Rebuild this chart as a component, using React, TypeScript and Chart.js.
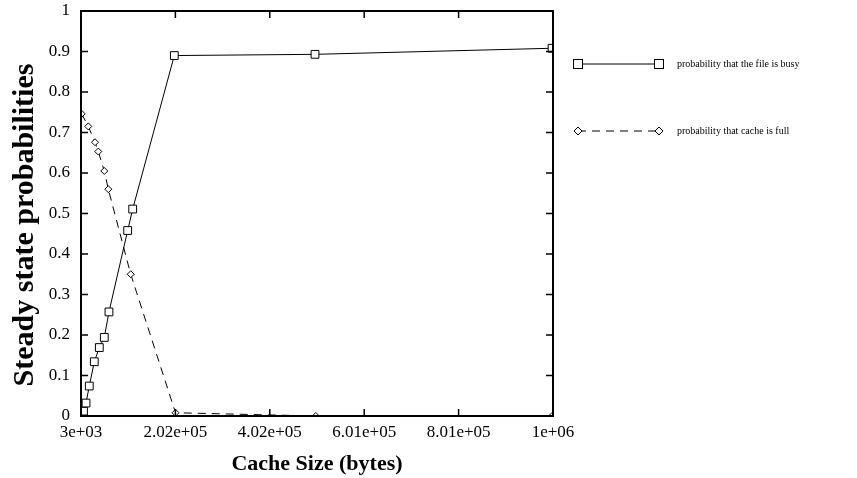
import React, { useEffect, useRef } from "react";
import { Chart, registerables } from "chart.js";

Chart.register(...registerables);

const busyX = [8300, 13600, 20500, 31100, 41700, 52200, 62100, 101600, 112200, 200100, 497300, 998000];
const busyY = [0.012, 0.032, 0.074, 0.134, 0.169, 0.194, 0.257, 0.458, 0.511, 0.89, 0.893, 0.908];
const fullX = [4500, 18400, 32600, 39500, 52200, 60700, 108000, 202600, 499000, 998000];
const fullY = [0.746, 0.715, 0.676, 0.653, 0.605, 0.56, 0.35, 0.008, 0.0, 0.0];
const xTickValues = [3000, 202400, 401800, 601200, 800600, 1000000];
const xTickLabels = ["3e+03", "2.02e+05", "4.02e+05", "6.01e+05", "8.01e+05", "1e+06"];
const yTickValues = [0, 0.1, 0.2, 0.3, 0.4, 0.5, 0.6, 0.7, 0.8, 0.9, 1];
const yTickLabels = ["0", "0.1", "0.2", "0.3", "0.4", "0.5", "0.6", "0.7", "0.8", "0.9", "1"];
const seriesNames = ["probability that the file is busy", "probability that cache is full"];
const yTitle = "Steady state probabilities";
const xTitle = "Cache Size (bytes)";

const SERIF = "'Liberation Serif', 'Times New Roman', serif";

const framePlugin = {
  id: "frameTicks",
  afterDatasetsDraw(chart: any) {
    const { ctx, chartArea: a, scales } = chart;
    ctx.save();
    ctx.strokeStyle = "#000";
    ctx.lineWidth = 2;
    ctx.strokeRect(a.left, a.top, a.right - a.left, a.bottom - a.top);
    ctx.lineWidth = 1.5;
    const tl = 7;
    for (const v of yTickValues) {
      const y = scales.y.getPixelForValue(v);
      ctx.beginPath();
      ctx.moveTo(a.left, y);
      ctx.lineTo(a.left + tl, y);
      ctx.moveTo(a.right, y);
      ctx.lineTo(a.right - tl, y);
      ctx.stroke();
    }
    for (const v of xTickValues) {
      const x = scales.x.getPixelForValue(v);
      ctx.beginPath();
      ctx.moveTo(x, a.bottom);
      ctx.lineTo(x, a.bottom - tl);
      ctx.moveTo(x, a.top);
      ctx.lineTo(x, a.top + tl);
      ctx.stroke();
    }
    // y title
    ctx.save();
    ctx.translate(33, 225);
    ctx.rotate(-Math.PI / 2);
    ctx.font = "bold 30px " + SERIF;
    ctx.fillStyle = "#000";
    ctx.textAlign = "center";
    ctx.textBaseline = "alphabetic";
    ctx.fillText(yTitle, 0, 0);
    ctx.restore();
    // legend
    const lx0 = a.right + 25;
    const lx1 = a.right + 106;
    const tx = a.right + 124;
    const rows = [64, 131];
    ctx.font = "10px " + SERIF;
    ctx.textBaseline = "middle";
    ctx.textAlign = "left";
    rows.forEach((ry, i) => {
      ctx.lineWidth = 1;
      ctx.setLineDash(i === 0 ? [] : [8, 6]);
      ctx.beginPath();
      ctx.moveTo(lx0, ry);
      ctx.lineTo(lx1, ry);
      ctx.stroke();
      ctx.setLineDash([]);
      for (const mx of [lx0, lx1]) {
        ctx.fillStyle = "#fff";
        if (i === 0) {
          ctx.fillRect(mx - 4.5, ry - 4.5, 9, 9);
          ctx.strokeRect(mx - 4.5, ry - 4.5, 9, 9);
        } else {
          ctx.beginPath();
          ctx.moveTo(mx, ry - 4);
          ctx.lineTo(mx + 4, ry);
          ctx.lineTo(mx, ry + 4);
          ctx.lineTo(mx - 4, ry);
          ctx.closePath();
          ctx.fill();
          ctx.stroke();
        }
      }
      ctx.fillStyle = "#000";
      ctx.fillText(seriesNames[i], tx, ry);
    });
    ctx.restore();
  },
};

export default function App() {
  const ref = useRef<HTMLCanvasElement>(null);
  useEffect(() => {
    document.body.style.margin = "0";
    const chart = new Chart(ref.current!, {
      type: "scatter",
      data: {
        datasets: [
          {
            label: seriesNames[0],
            data: busyX.map((x, i) => ({ x, y: busyY[i] })),
            showLine: true,
            borderColor: "#000",
            borderWidth: 1,
            pointStyle: "rect",
            pointRadius: 5.5,
            pointBackgroundColor: "#fff",
            pointBorderColor: "#000",
            pointBorderWidth: 1,
          },
          {
            label: seriesNames[1],
            data: fullX.map((x, i) => ({ x, y: fullY[i] })),
            showLine: true,
            borderColor: "#000",
            borderWidth: 1,
            borderDash: [8, 6],
            pointStyle: "rectRot",
            pointRadius: 3.5,
            pointBackgroundColor: "#fff",
            pointBorderColor: "#000",
            pointBorderWidth: 1,
          },
        ],
      },
      options: {
        animation: false,
        responsive: false,
        devicePixelRatio: 1,
        layout: { padding: { top: 11, right: 304, left: 0, bottom: 0 } },
        plugins: { legend: { display: false }, tooltip: { enabled: false } },
        scales: {
          x: {
            type: "linear",
            min: 3000,
            max: 1000000,
            afterBuildTicks: (s: any) => {
              s.ticks = xTickValues.map((v) => ({ value: v }));
            },
            afterFit: (s: any) => {
              s.height = 62;
              s.paddingLeft = 0;
              s.paddingRight = 0;
            },
            grid: { display: false, drawTicks: false },
            border: { display: false },
            ticks: {
              color: "#000",
              font: { family: SERIF, size: 17 },
              padding: 6,
              maxRotation: 0,
              autoSkip: false,
              callback: (v: any) => {
                const i = xTickValues.indexOf(Number(v));
                return i >= 0 ? xTickLabels[i] : "";
              },
            },
            title: {
              display: true,
              text: xTitle,
              color: "#000",
              font: { family: SERIF, size: 22, weight: "bold" },
              padding: { top: 0, bottom: 0 },
            },
          },
          y: {
            min: 0,
            max: 1,
            afterBuildTicks: (s: any) => {
              s.ticks = yTickValues.map((v) => ({ value: v }));
            },
            afterFit: (s: any) => {
              s.width = 81;
              s.paddingTop = 0;
              s.paddingBottom = 0;
            },
            grid: { display: false, drawTicks: false },
            border: { display: false },
            ticks: {
              color: "#000",
              font: { family: SERIF, size: 17 },
              padding: 11,
              autoSkip: false,
              callback: (v: any) => {
                const i = yTickValues.findIndex((t) => Math.abs(t - Number(v)) < 1e-9);
                return i >= 0 ? yTickLabels[i] : "";
              },
            },
          },
        },
      },
      plugins: [framePlugin],
    } as any);
    return () => chart.destroy();
  }, []);
  return <canvas ref={ref} width={857} height={478} style={{ display: "block" }} />;
}
